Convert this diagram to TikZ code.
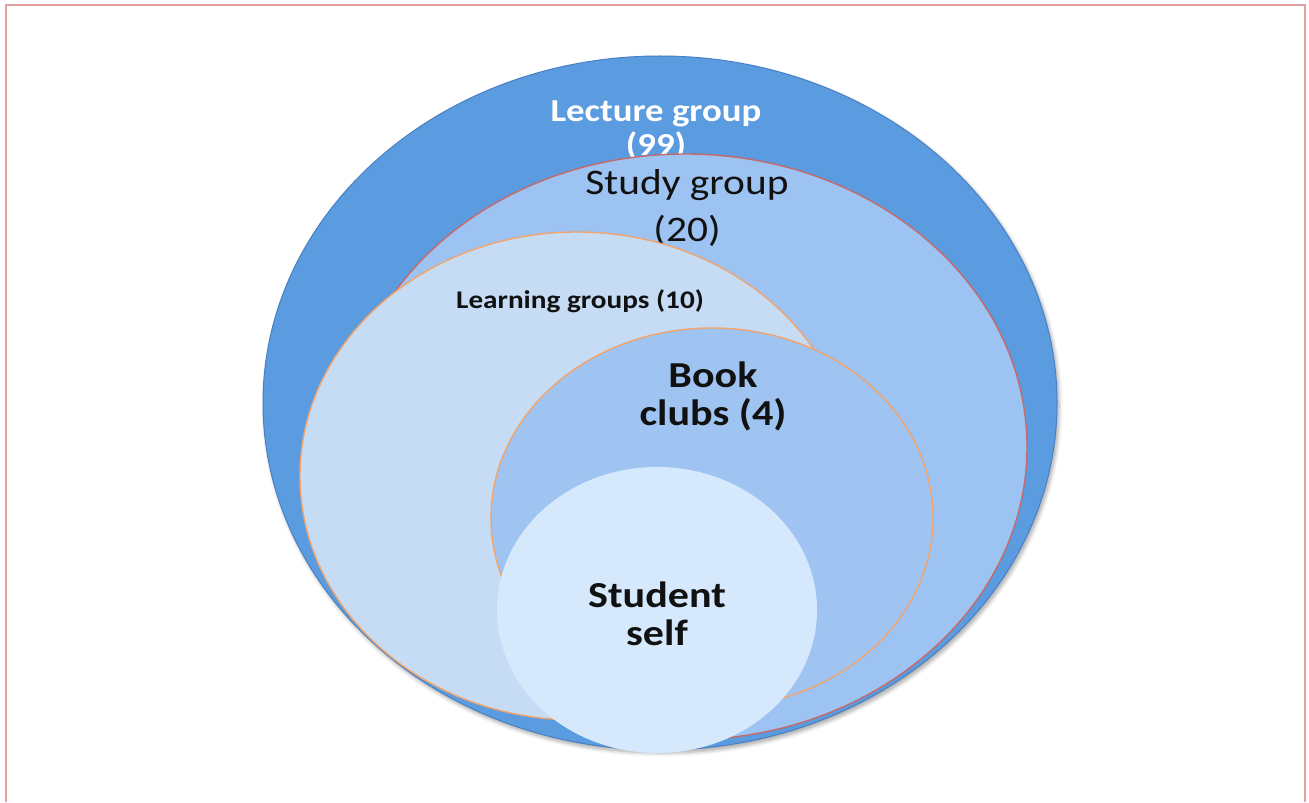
\documentclass[tikz,border=0pt]{standalone}
\usepackage{fontspec}
\usepackage{graphicx}
\setmainfont{Carlito}
\usetikzlibrary{shadows.blur}

\definecolor{lectureblue}{HTML}{5B9BE0}
\definecolor{lecturerim}{HTML}{4A80C4}
\definecolor{studyblue}{HTML}{9DC3F2}
\definecolor{learnblue}{HTML}{C6DCF5}
\definecolor{bookblue}{HTML}{A0C4F2}
\definecolor{selfblue}{HTML}{D6E8FC}
\definecolor{rimred}{HTML}{C46A6A}
\definecolor{rimorange}{HTML}{F2A46A}
\definecolor{framepink}{HTML}{E3A0A0}
\definecolor{inktext}{HTML}{111111}

% labels are set slightly wider than the font's natural shape
\newcommand{\widetext}[1]{\scalebox{1.15}[1]{#1}}

\tikzset{
  lbl/.style={inner sep=0pt, anchor=base, text=inktext},
  boldlbl/.style={lbl, font=\bfseries},
}

\begin{document}
\begin{tikzpicture}[x=0.5pt, y=-0.5pt]
\useasboundingbox (0,0) rectangle (1309,802);

% page frame
\draw[framepink, line width=1pt] (6,802) -- (6,5) -- (1305,5) -- (1305,802);

% Lecture group (outermost)
\fill[lectureblue, draw=lecturerim, line width=0.5pt,
      blur shadow={shadow xshift=1pt, shadow yshift=-1.5pt, shadow blur steps=6, shadow opacity=35}]
  (660,403) ellipse [x radius=397, y radius=347];
\node[boldlbl, text=white, font=\bfseries\fontsize{16}{19}\selectfont] (lec1) at (656,122) {\widetext{Lecture group}};
\node[boldlbl, text=white, font=\bfseries\fontsize{16}{19}\selectfont] (lec2) at (656,156) {\widetext{(99)}};

% Study group
\fill[studyblue, draw=rimred, line width=0.7pt] (685,447) ellipse [x radius=342, y radius=293];
\node[lbl, font=\fontsize{18}{21}\selectfont] (stu1) at (687,195) {\widetext{Study group}};
\node[lbl, font=\fontsize{18}{21}\selectfont] (stu2) at (687,241) {\widetext{(20)}};

% Learning groups
\fill[learnblue, draw=rimorange, line width=0.7pt] (577,476) ellipse [x radius=277, y radius=244];
\node[boldlbl, font=\bfseries\fontsize{12.7}{15}\selectfont] (learn) at (580,308) {\widetext{Learning groups (10)}};

% Book clubs
\fill[bookblue, draw=rimorange, line width=0.7pt] (712,518) ellipse [x radius=221, y radius=190];
\node[boldlbl, font=\bfseries\fontsize{18.3}{21}\selectfont] (book1) at (713,387) {\widetext{Book}};
\node[boldlbl, font=\bfseries\fontsize{18.3}{21}\selectfont] (book2) at (713,425) {\widetext{clubs (4)}};

% Student self (innermost)
\fill[selfblue] (657,610) ellipse [x radius=160, y radius=143];
\node[boldlbl, font=\bfseries\fontsize{18.3}{21}\selectfont] (self1) at (657,607) {\widetext{Student}};
\node[boldlbl, font=\bfseries\fontsize{18.3}{21}\selectfont] (self2) at (657,645) {\widetext{self}};
\end{tikzpicture}
\end{document}
